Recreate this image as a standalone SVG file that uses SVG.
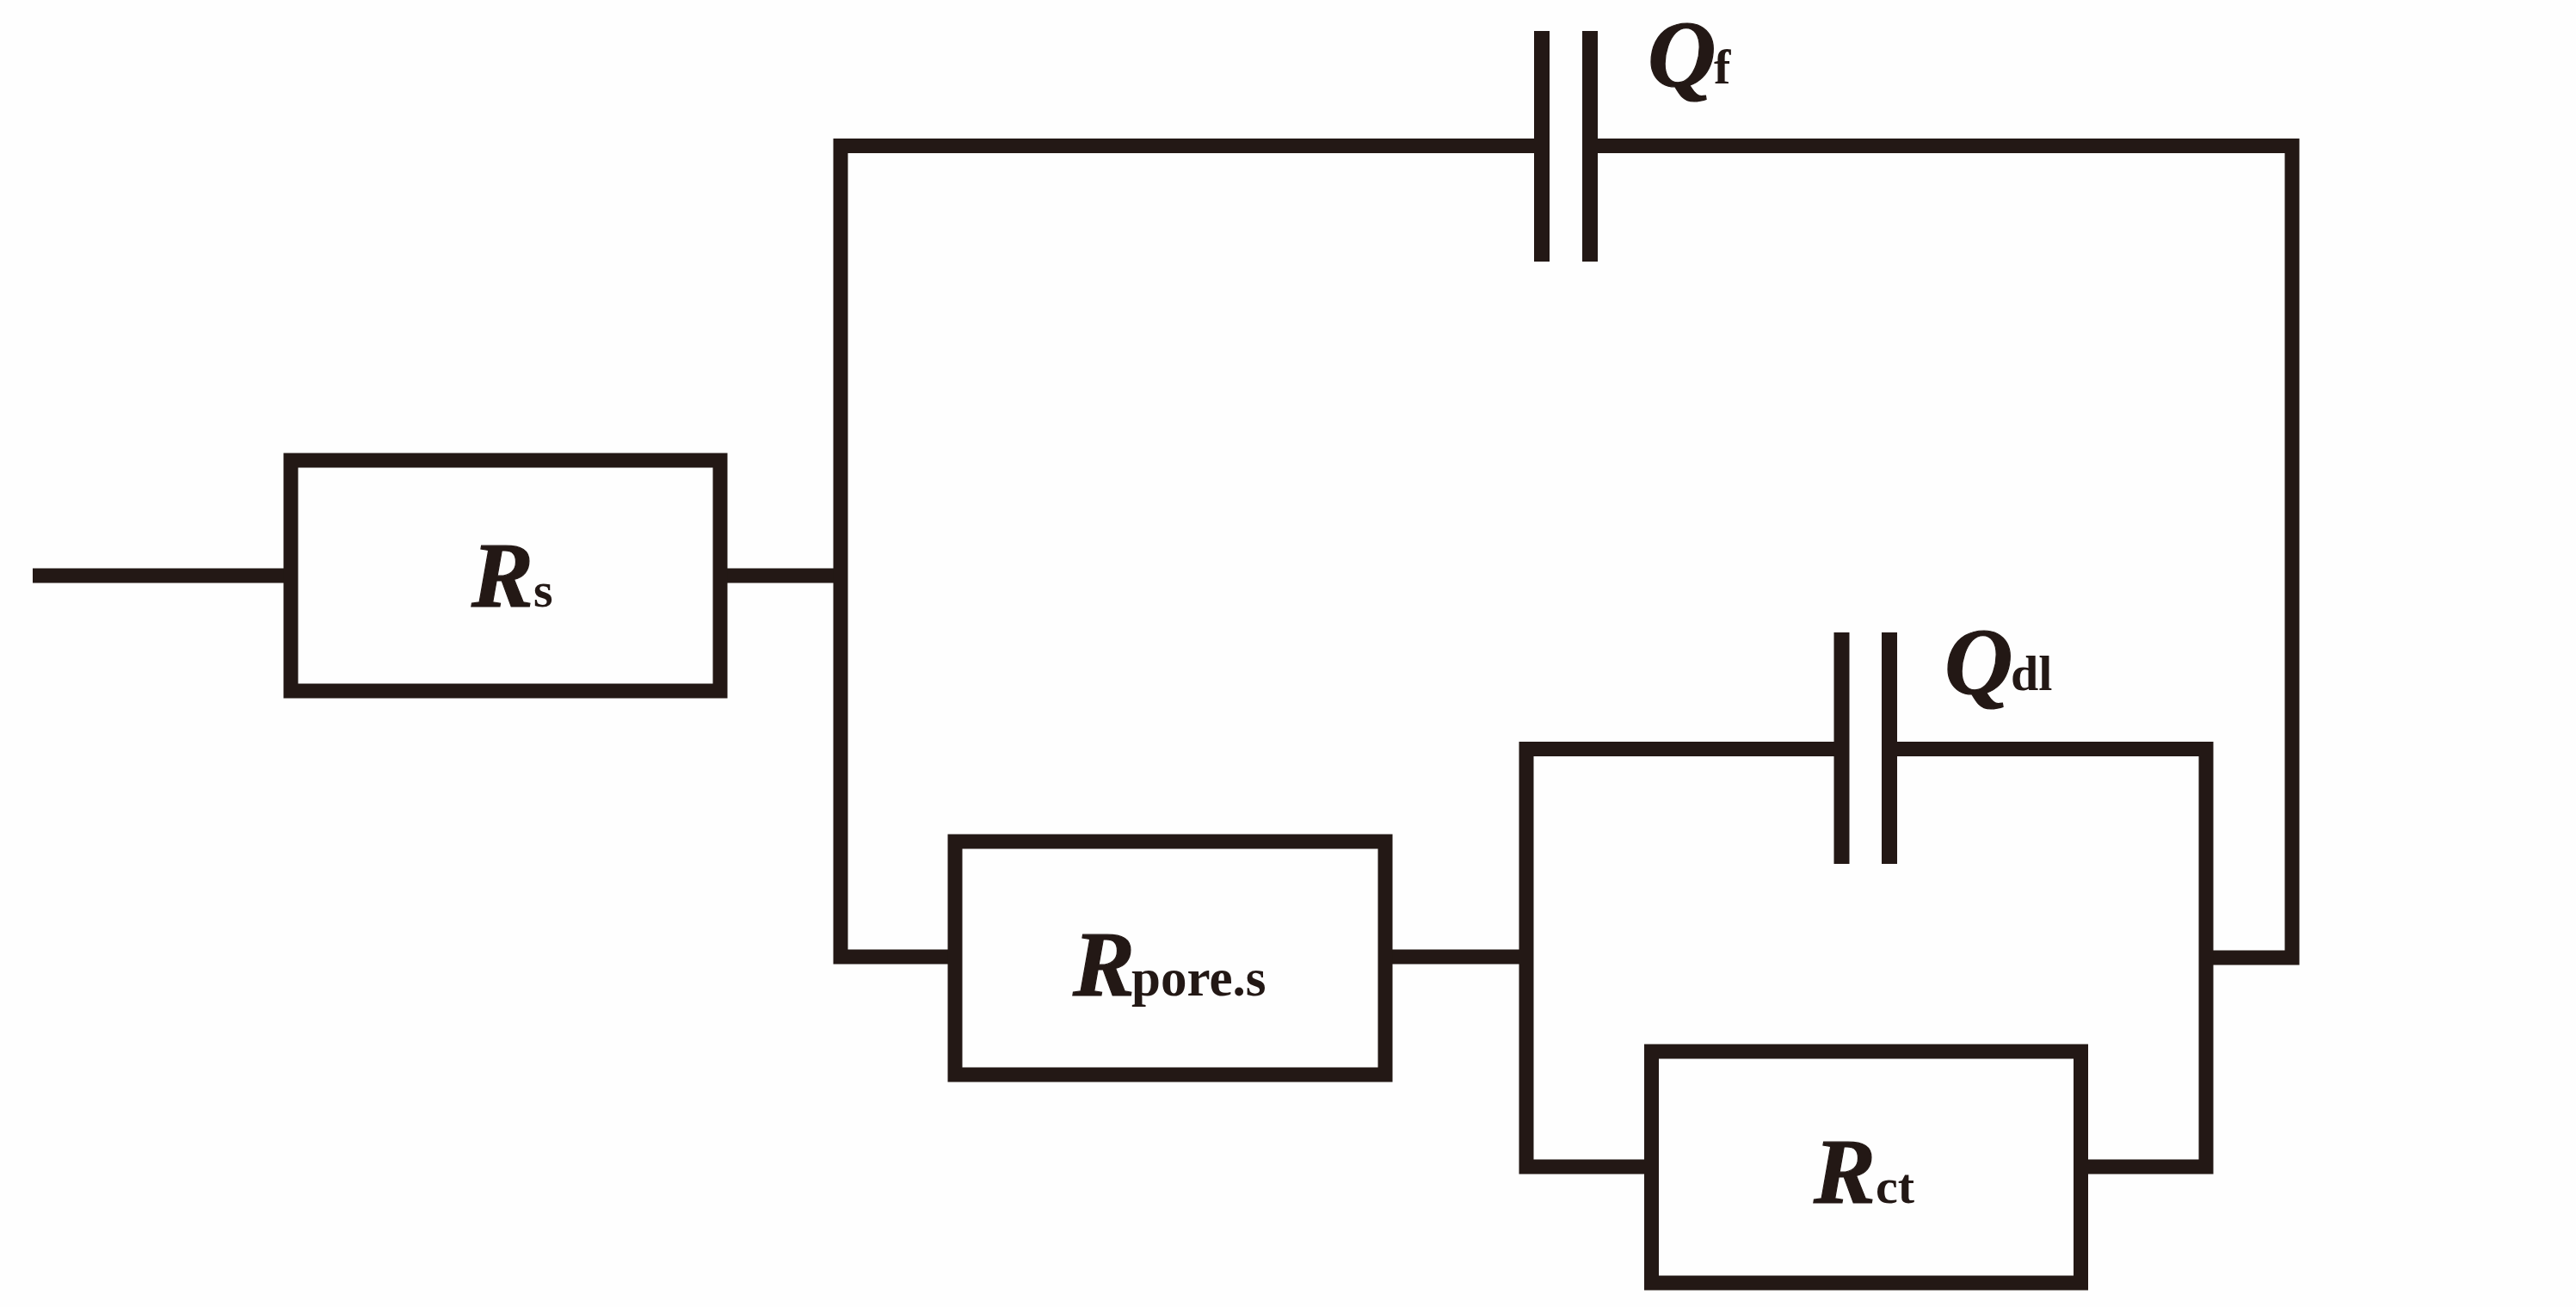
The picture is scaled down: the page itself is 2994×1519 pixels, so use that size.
<svg xmlns="http://www.w3.org/2000/svg" width="2994" height="1519" viewBox="0 0 2994 1519">
<style>
.w{fill:none;stroke:#231815;stroke-width:17;stroke-linejoin:miter;stroke-linecap:butt}
.box{fill:none;stroke:#231815;stroke-width:17}
.plate{fill:none;stroke:#231815;stroke-width:18}
text{font-family:"Liberation Serif","Times New Roman",serif;fill:#231815;font-weight:bold}
.m{font-style:italic;font-size:108px;stroke:#231815;stroke-width:1.2px}
.q{font-style:italic;font-size:110px;stroke:#231815;stroke-width:1.2px}
.s{font-size:58px}
.p{font-size:61px}
</style>
<rect width="2994" height="1519" fill="#fefefe"/>
<g id="connectors">
<path class="w" d="M38 669H330"/>
<path class="w" d="M845 669H977"/>
<path class="w" d="M1783 169.500H977V1112H1102"/>
<path class="w" d="M1857 169.500H2664V1113H2572"/>
<path class="w" d="M1618 1112H1774"/>
<path class="w" d="M2132 870.500H1774V1356H1911"/>
<path class="w" d="M2205 870.500H2564V1356H2427"/>
</g>
<g id="Rs"><rect class="box" x="338" y="535" width="499" height="268"/><text><tspan class="m" x="548" y="705">R</tspan><tspan class="s" x="620" y="705">s</tspan></text></g>
<g id="Qf"><path class="plate" d="M1792 36V304M1848 36V304"/><text><tspan class="q" x="1915" y="100">Q</tspan><tspan class="s" x="1992" y="97">f</tspan></text></g>
<g id="Rpore"><rect class="box" x="1110" y="978" width="500" height="271"/><text><tspan class="m" x="1247" y="1157">R</tspan><tspan class="p" x="1315" y="1157">pore.s</tspan></text></g>
<g id="Qdl"><path class="plate" d="M2140.500 735V1004M2196 735V1004"/><text><tspan class="q" x="2260" y="806">Q</tspan><tspan class="s" x="2337" y="802">dl</tspan></text></g>
<g id="Rct"><rect class="box" x="1919.500" y="1222" width="499" height="269"/><text><tspan class="m" x="2108" y="1398">R</tspan><tspan class="s" x="2180" y="1398">ct</tspan></text></g>
</svg>
